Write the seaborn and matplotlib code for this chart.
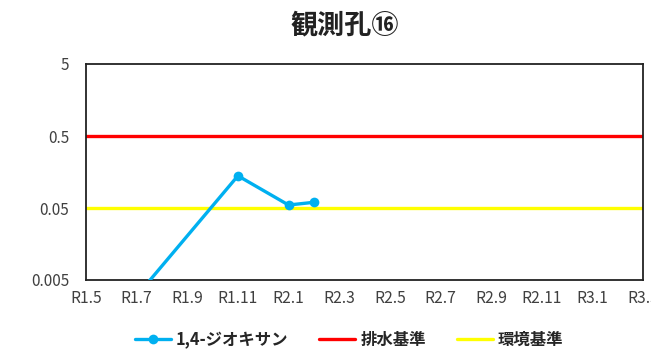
import matplotlib
matplotlib.use("Agg")
import matplotlib.pyplot as plt
import seaborn as sns
import pandas as pd
from matplotlib.lines import Line2D
from matplotlib.ticker import FixedLocator, NullLocator

sns.set_theme(style="white")
plt.rcParams['font.family'] = ['Noto Sans CJK JP', 'DejaVu Sans']

title = "観測孔⑯"
sample_labels = ["R1.7", "R1.11", "R2.1", "R2.2"]
dioxane = [0.003, 0.14, 0.055, 0.06]
drain_std = 0.5
env_std = 0.05
tick_labels = ["R1.5", "R1.7", "R1.9", "R1.11", "R2.1", "R2.3", "R2.5",
               "R2.7", "R2.9", "R2.11", "R3.1", "R3.3"]
y_ticks = [0.005, 0.05, 0.5, 5]
y_tick_labels = ["0.005", "0.05", "0.5", "5"]
series_names = ["1,4-ジオキサン", "排水基準", "環境基準"]


def month_index(lbl):
    y, m = lbl[1:].split(".")
    return (int(y) - 1) * 12 + int(m) - 5


df = pd.DataFrame({"x": [month_index(s) for s in sample_labels], "v": dioxane})

blue = "#00B0F0"
red = "#FF0000"
yellow = "#FFFF00"

fig = plt.figure(figsize=(6.51, 3.53), dpi=100)
ax = fig.add_axes([86 / 651, 1 - 280 / 353, (643 - 86) / 651, (280 - 64) / 353])

ax.axhline(drain_std, color=red, lw=2.4, zorder=2)
ax.axhline(env_std, color=yellow, lw=2.4, zorder=2)
sns.lineplot(data=df, x="x", y="v", ax=ax, color=blue, lw=2.4, marker="o",
             markersize=7, markeredgewidth=0, zorder=3)

ax.set_yscale("log")
ax.set_ylim(0.005, 5)
ax.yaxis.set_major_locator(FixedLocator(y_ticks))
ax.yaxis.set_minor_locator(NullLocator())
ax.set_yticklabels(y_tick_labels)
xt = [month_index(t) for t in tick_labels]
ax.set_xlim(xt[0], xt[-1])
ax.set_xticks(xt)
ax.set_xticklabels(tick_labels)
ax.tick_params(axis="both", length=0, labelsize=11, colors="#404040")
ax.tick_params(axis="y", pad=12)
ax.tick_params(axis="x", labelsize=11.3, pad=7)
ax.set_xlabel("")
ax.set_ylabel("")
for s in ax.spines.values():
    s.set_color("#222222")
    s.set_linewidth(1.3)
    s.set_visible(True)
ax.grid(False)

fig.text(345 / 651, 1 - 25 / 353, title, ha="center", va="center",
         fontsize=19.5, fontweight="bold", color="#222222")

handles = [
    Line2D([0], [0], color=blue, lw=2.4, marker="o", markersize=7, markeredgewidth=0),
    Line2D([0], [0], color=red, lw=2.4),
    Line2D([0], [0], color=yellow, lw=2.4),
]
fig.legend(handles, series_names, loc="center", bbox_to_anchor=(349 / 651, 1 - 340 / 353),
           ncol=3, frameon=False, handlelength=2.2, columnspacing=1.9,
           handletextpad=0.3, prop={"weight": "bold", "size": 11.8})

fig.savefig("out.png", dpi=100)
